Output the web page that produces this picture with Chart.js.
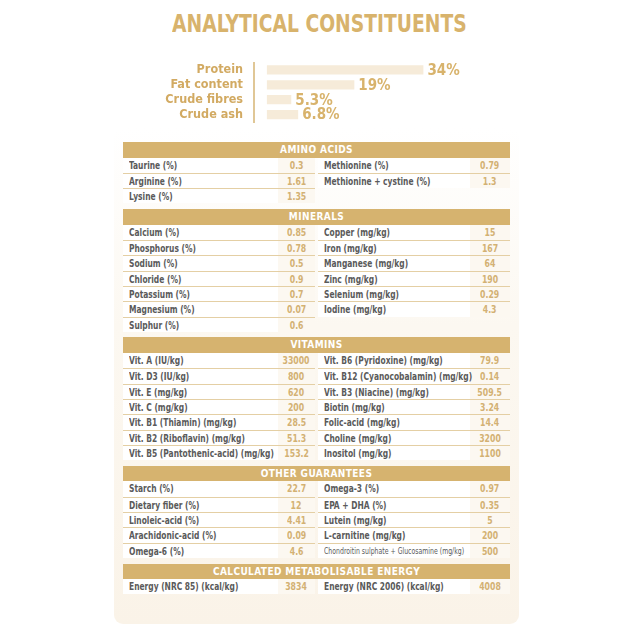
<!DOCTYPE html>
<html>
<head>
<meta charset="utf-8">
<script src="https://cdn.jsdelivr.net/npm/chart.js@4"></script>
<style>
  html, body { margin: 0; padding: 0; background: #fff; }
  body { width: 640px; height: 640px; position: relative; overflow: hidden;
         font-family: 'DejaVu Sans Condensed', 'DejaVu Sans', sans-serif; }
  #title { position: absolute; top: 9px; left: 0; width: 638px; text-align: center;
           font-size: 24.5px; font-weight: bold; color: #d8b36c; }
  #title span { display: inline-block; transform: scaleX(0.85); }
  #barWrap { position: absolute; left: 150px; top: 59px; width: 341px; height: 66px; }
  #panel { position: absolute; left: 114px; top: 128px; width: 405px; height: 496px;
           border-radius: 9px; background: linear-gradient(#fff 0%, #fcf8f1 40%, #faf3e8 100%); }
  #table { position: absolute; left: 123px; top: 142px; width: 387px; }
  .head { height: 15.5px; line-height: 16px; background: #d6b36f; color: #fff; text-align: center;
          font-weight: bold; font-size: 10px; letter-spacing: 0.4px; }
  .sect { margin-bottom: 5.6px; }
  .row { display: flex; height: 15.33px; }
  .half { display: flex; height: 100%; box-sizing: border-box; }
  .half.l { width: 192px; margin-right: 3px; }
  .half.r { width: 192px; }
  .half.line { border-top: 1px solid #e4cfa4; }
  .lab { flex: 1; min-width: 0; background: #fff; color: #5a5a5a; font-size: 9.6px; font-weight: bold;
         padding-left: 6px; line-height: 15px; white-space: nowrap; overflow: visible; }
  .lab span { display: inline-block; transform: scaleX(0.87); transform-origin: 0 50%; }
  .val { flex: none; background: #fcf8f1; color: #d3b173; font-size: 9.6px; font-weight: bold;
         text-align: center; line-height: 15px; }
  .val span { display: inline-block; transform: scaleX(0.9); }
  .l .val { width: 37px; }
  .r .val { width: 40px; }
  .empty .lab, .empty .val { background: transparent; }
  .small { font-size: 8.2px; font-weight: normal; }
  .small span { transform: scaleX(0.84); }
</style>
</head>
<body>
<div id="title"><span>ANALYTICAL CONSTITUENTS</span></div>
<div id="barWrap"><canvas id="barChart" width="341" height="66"></canvas></div>
<div id="panel"></div>
<div id="table"></div>

<script>
const constituentLabels = ['Protein', 'Fat content', 'Crude fibres', 'Crude ash'];
const constituentValues = [34, 19, 5.3, 6.8];

const aminoNames = ['Taurine (%)', 'Arginine (%)', 'Lysine (%)', 'Methionine (%)', 'Methionine + cystine (%)'];
const aminoValues = [0.3, 1.61, 1.35, 0.79, 1.3];

const mineralNames = ['Calcium (%)', 'Phosphorus (%)', 'Sodium (%)', 'Chloride (%)', 'Potassium (%)', 'Magnesium (%)', 'Sulphur (%)',
    'Copper (mg/kg)', 'Iron (mg/kg)', 'Manganese (mg/kg)', 'Zinc (mg/kg)', 'Selenium (mg/kg)', 'Iodine (mg/kg)'];
const mineralValues = [0.85, 0.78, 0.5, 0.9, 0.7, 0.07, 0.6, 15, 167, 64, 190, 0.29, 4.3];

const vitaminNames = ['Vit. A (IU/kg)', 'Vit. D3 (IU/kg)', 'Vit. E (mg/kg)', 'Vit. C (mg/kg)', 'Vit. B1 (Thiamin) (mg/kg)',
    'Vit. B2 (Riboflavin) (mg/kg)', 'Vit. B5 (Pantothenic-acid) (mg/kg)',
    'Vit. B6 (Pyridoxine) (mg/kg)', 'Vit. B12 (Cyanocobalamin) (mg/kg)', 'Vit. B3 (Niacine) (mg/kg)', 'Biotin (mg/kg)',
    'Folic-acid (mg/kg)', 'Choline (mg/kg)', 'Inositol (mg/kg)'];
const vitaminValues = [33000, 800, 620, 200, 28.5, 51.3, 153.2, 79.9, 0.14, 509.5, 3.24, 14.4, 3200, 1100];

const otherNames = ['Starch (%)', 'Dietary fiber (%)', 'Linoleic-acid (%)', 'Arachidonic-acid (%)', 'Omega-6 (%)',
    'Omega-3 (%)', 'EPA + DHA (%)', 'Lutein (mg/kg)', 'L-carnitine (mg/kg)', 'Chondroitin sulphate + Glucosamine (mg/kg)'];
const otherValues = [22.7, 12, 4.41, 0.09, 4.6, 0.97, 0.35, 5, 200, 500];

const energyNames = ['Energy (NRC 85) (kcal/kg)', 'Energy (NRC 2006) (kcal/kg)'];
const energyValues = [3834, 4008];

const sections = [
    ['AMINO ACIDS', aminoNames, aminoValues],
    ['MINERALS', mineralNames, mineralValues],
    ['VITAMINS', vitaminNames, vitaminValues],
    ['OTHER GUARANTEES', otherNames, otherValues],
    ['CALCULATED METABOLISABLE ENERGY', energyNames, energyValues]
];

// --- table ---
function cellHtml(side, name, value, first) {
    if (name === undefined) return `<div class="half ${side} empty"></div>`;
    const cls = name.length > 38 ? 'lab small' : 'lab';
    return `<div class="half ${side}${first ? '' : ' line'}"><div class="${cls}"><span>${name}</span></div><div class="val"><span>${value}</span></div></div>`;
}

const tableEl = document.getElementById('table');
tableEl.innerHTML = sections.map(([title, names, values]) => {
    const half = Math.ceil(names.length / 2);
    let rows = '';
    for (let i = 0; i < half; i++) {
        const j = half + i;
        rows += `<div class="row">${cellHtml('l', names[i], values[i], i === 0)}${cellHtml('r', names[j], values[j], i === 0)}</div>`;
    }
    return `<div class="sect"><div class="head">${title}</div>${rows}</div>`;
}).join('');

// --- bar chart ---
const valueLabels = {
    id: 'valueLabels',
    afterDatasetsDraw(chart) {
        const c = chart.ctx;
        const meta = chart.getDatasetMeta(0);
        c.save();
        c.font = "bold 15px 'DejaVu Sans Condensed', sans-serif";
        c.fillStyle = '#d8b36c';
        c.textBaseline = 'middle';
        meta.data.forEach((bar, i) => {
            c.fillText(constituentValues[i] + '%', bar.x + 4, bar.y + 1);
        });
        c.restore();
    }
};

new Chart(document.getElementById('barChart'), {
    type: 'bar',
    data: {
        labels: constituentLabels,
        datasets: [{
            data: constituentValues,
            backgroundColor: '#f6ebd9',
            barPercentage: 0.63,
            categoryPercentage: 1
        }]
    },
    options: {
        indexAxis: 'y',
        responsive: false,
        animation: false,
        layout: { padding: { top: 3.5, bottom: 3, right: 40, left: 0 } },
        plugins: { legend: { display: false }, tooltip: { enabled: false } },
        scales: {
            x: { display: false, min: -2.8, max: 40 },
            y: {
                grid: { display: false, drawTicks: false },
                border: { display: true, color: '#e0c796', width: 2 },
                ticks: { autoSkip: false, color: '#d2aa62', padding: 11, font: { family: "'DejaVu Sans Condensed', sans-serif", size: 12.5, weight: 'bold' } },
                afterFit(scale) {
                    scale.width = 104;
                    // tick padding would otherwise shrink the plot vertically
                    scale.paddingTop = 0;
                    scale.paddingBottom = 0;
                }
            }
        }
    },
    plugins: [valueLabels]
});
</script>
</body>
</html>
